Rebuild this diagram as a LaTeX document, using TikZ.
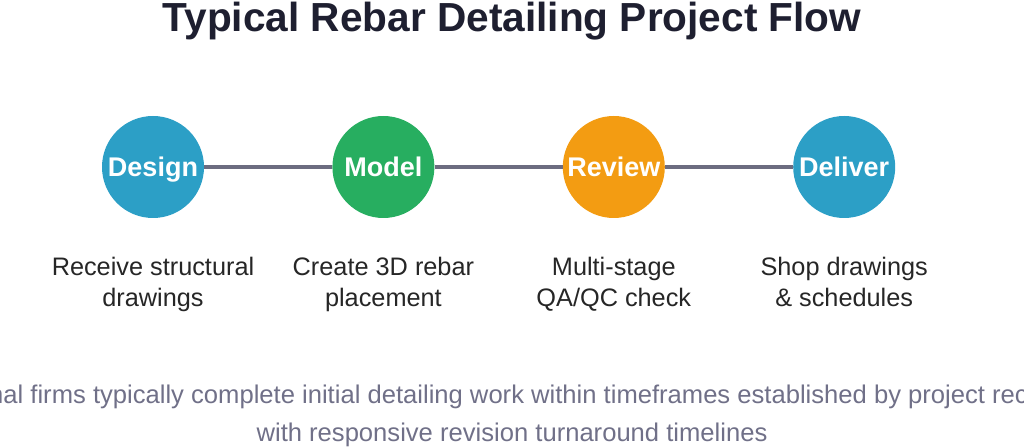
\documentclass[tikz,border=0pt]{standalone}
\usepackage{fontspec}
\setmainfont{Liberation Sans}
\definecolor{stepblue}{HTML}{2C9FC6}
\definecolor{stepgreen}{HTML}{27AE60}
\definecolor{steporange}{HTML}{F39C12}
\definecolor{flowline}{HTML}{6C6C80}
\definecolor{titleink}{HTML}{1E1F30}
\definecolor{noteink}{HTML}{707088}
\usetikzlibrary{positioning}

\begin{document}
\begin{tikzpicture}[x=1pt, y=1pt,
        node distance=128pt,
        phase/.style={circle, fill=#1, minimum size=102pt, inner sep=0pt,
                      text height=19pt, text depth=0pt,
                      text=white, font=\fontsize{27}{32}\selectfont\bfseries},
        desc/.style={below=39pt of #1, align=center, inner sep=0pt,
                     text=black!85, font=\fontsize{25.3}{30.5}\selectfont},
        link/.style={draw=flowline, line width=3.5pt},
        note/.style={text=noteink, inner sep=0pt,
                     font=\fontsize{25.6}{30}\selectfont}
      ]
      \useasboundingbox (0,0) rectangle (1024,447);
      \node[anchor=base, text=titleink, font=\fontsize{40.6}{48}\selectfont\bfseries]
        (title) at (512,415.5) {Typical Rebar Detailing Project Flow};

      \node[phase=stepblue]               (design)  at (153,280) {Design};
      \node[phase=stepgreen, right=of design] (model)   {Model};
      \node[phase=steporange, right=of model] (review)  {Review};
      \node[phase=stepblue, right=of review]  (deliver) {Deliver};

      \draw[link] (design) -- (model);
      \draw[link] (model)  -- (review);
      \draw[link] (review) -- (deliver);

      \node[desc=design]  (d1) {Receive structural\\drawings};
      \node[desc=model]   (d2) {Create 3D rebar\\placement};
      \node[desc=review]  (d3) {Multi-stage\\QA/QC check};
      \node[desc=deliver] (d4) {Shop drawings\\\& schedules};

      \begin{scope}
        \clip (0,0) rectangle (1024,447);
        \node[note, anchor=base west] (n1) at (-11,44)
          {nal firms typically complete initial detailing work within timeframes established by project rec};
        \node[note, anchor=base] (n2) at (512,6)
          {with responsive revision turnaround timelines};
      \end{scope}
    \end{tikzpicture}
\end{document}
